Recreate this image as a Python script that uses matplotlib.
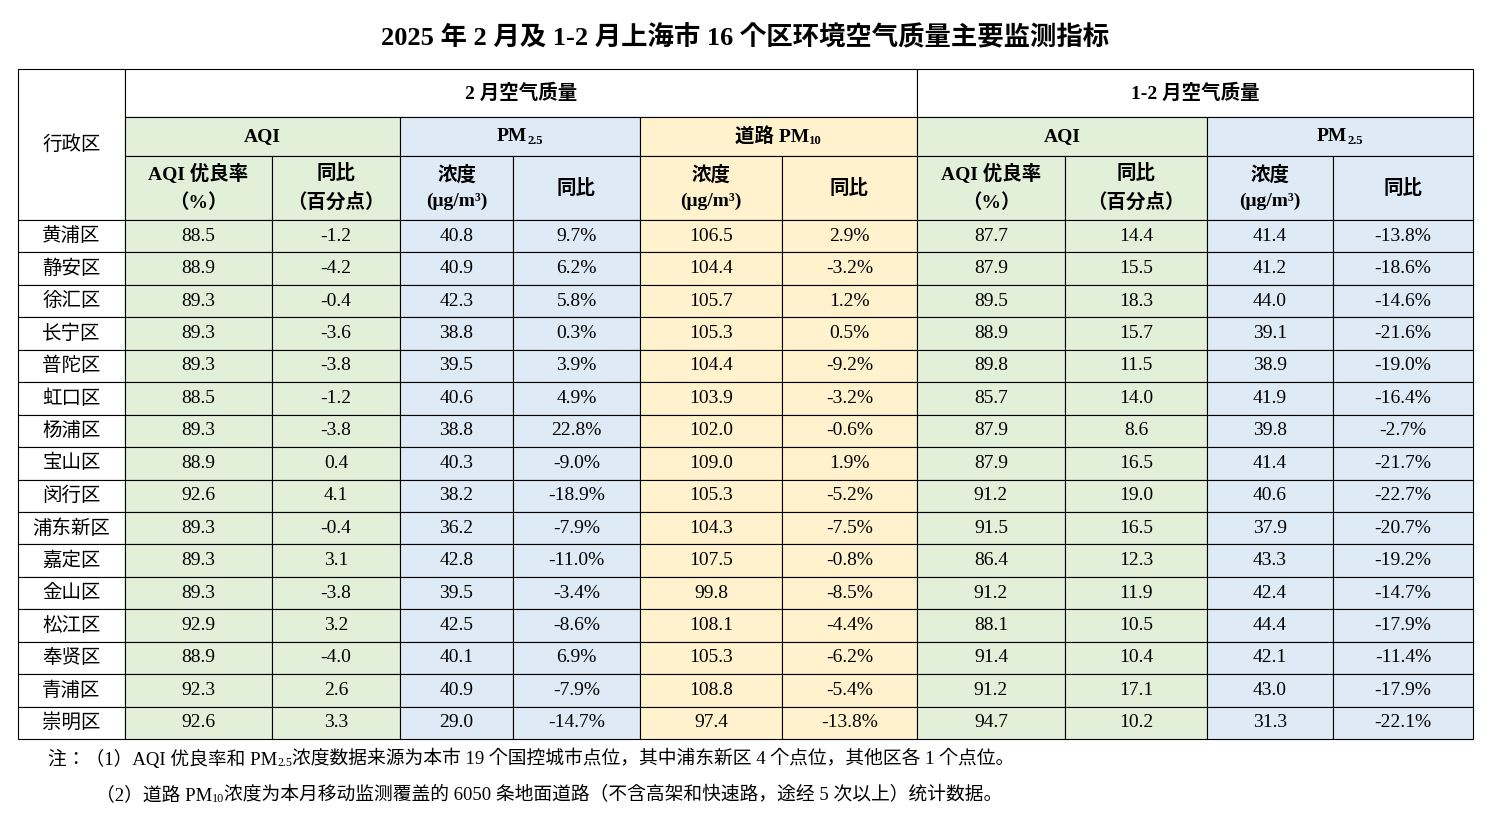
import matplotlib
matplotlib.use("Agg")
import matplotlib.pyplot as plt
from matplotlib.patches import Rectangle

plt.rcParams["font.family"] = ["Liberation Serif", "Noto Sans CJK JP", "Noto Sans CJK SC"]

title = "2025 年 2 月及 1-2 月上海市 16 个区环境空气质量主要监测指标"
districts = ["黄浦区", "静安区", "徐汇区", "长宁区", "普陀区", "虹口区", "杨浦区", "宝山区",
             "闵行区", "浦东新区", "嘉定区", "金山区", "松江区", "奉贤区", "青浦区", "崇明区"]
feb_aqi = ["88.5", "88.9", "89.3", "89.3", "89.3", "88.5", "89.3", "88.9",
           "92.6", "89.3", "89.3", "89.3", "92.9", "88.9", "92.3", "92.6"]
feb_aqi_yoy = ["-1.2", "-4.2", "-0.4", "-3.6", "-3.8", "-1.2", "-3.8", "0.4",
               "4.1", "-0.4", "3.1", "-3.8", "3.2", "-4.0", "2.6", "3.3"]
feb_pm25 = ["40.8", "40.9", "42.3", "38.8", "39.5", "40.6", "38.8", "40.3",
            "38.2", "36.2", "42.8", "39.5", "42.5", "40.1", "40.9", "29.0"]
feb_pm25_yoy = ["9.7%", "6.2%", "5.8%", "0.3%", "3.9%", "4.9%", "22.8%", "-9.0%",
                "-18.9%", "-7.9%", "-11.0%", "-3.4%", "-8.6%", "6.9%", "-7.9%", "-14.7%"]
feb_pm10 = ["106.5", "104.4", "105.7", "105.3", "104.4", "103.9", "102.0", "109.0",
            "105.3", "104.3", "107.5", "99.8", "108.1", "105.3", "108.8", "97.4"]
feb_pm10_yoy = ["2.9%", "-3.2%", "1.2%", "0.5%", "-9.2%", "-3.2%", "-0.6%", "1.9%",
                "-5.2%", "-7.5%", "-0.8%", "-8.5%", "-4.4%", "-6.2%", "-5.4%", "-13.8%"]
ytd_aqi = ["87.7", "87.9", "89.5", "88.9", "89.8", "85.7", "87.9", "87.9",
           "91.2", "91.5", "86.4", "91.2", "88.1", "91.4", "91.2", "94.7"]
ytd_aqi_yoy = ["14.4", "15.5", "18.3", "15.7", "11.5", "14.0", "8.6", "16.5",
               "19.0", "16.5", "12.3", "11.9", "10.5", "10.4", "17.1", "10.2"]
ytd_pm25 = ["41.4", "41.2", "44.0", "39.1", "38.9", "41.9", "39.8", "41.4",
            "40.6", "37.9", "43.3", "42.4", "44.4", "42.1", "43.0", "31.3"]
ytd_pm25_yoy = ["-13.8%", "-18.6%", "-14.6%", "-21.6%", "-19.0%", "-16.4%", "-2.7%", "-21.7%",
                "-22.7%", "-20.7%", "-19.2%", "-14.7%", "-17.9%", "-11.4%", "-17.9%", "-22.1%"]
columns = [feb_aqi, feb_aqi_yoy, feb_pm25, feb_pm25_yoy, feb_pm10, feb_pm10_yoy,
           ytd_aqi, ytd_aqi_yoy, ytd_pm25, ytd_pm25_yoy]

GREEN, BLUE, YELLOW = "#E2EFD9", "#DEEAF6", "#FFF2CC"
col_colors = [GREEN, GREEN, BLUE, BLUE, YELLOW, YELLOW, GREEN, GREEN, BLUE, BLUE]
xs = [18, 125, 272, 400, 513, 640, 782, 917, 1065, 1207, 1333, 1473]
y0, y1, y2, y3, yend = 69, 117, 156, 220, 739
rh = (yend - y3) / len(districts)

fig = plt.figure(figsize=(14.91, 8.15), dpi=100)
ax = fig.add_axes([0, 0, 1, 1])
ax.set_xlim(0, 1491)
ax.set_ylim(815, 0)
ax.axis("off")
renderer = fig.canvas.get_renderer()


def rich(x, y, pieces, size=14, bold=False, ha="center"):
    # pieces: list of (text, is_subscript)
    w = "bold" if bold else "normal"
    arts = []
    for t, sub in pieces:
        a = ax.text(0, y + (4 if sub else 0), t, ha="left", va="center",
                    fontsize=size * 0.65 if sub else size, fontweight=w)
        arts.append(a)
    widths = [a.get_window_extent(renderer).width for a in arts]
    cx = x - sum(widths) / 2 if ha == "center" else x
    for a, wd in zip(arts, widths):
        a.set_x(cx)
        cx += wd


def cell(xa, xb, ya, yb, text, color="white", bold=False, size=14):
    ax.add_patch(Rectangle((xa, ya), xb - xa, yb - ya, facecolor=color,
                           edgecolor="black", linewidth=0.8))
    if isinstance(text, list):
        rich((xa + xb) / 2, (ya + yb) / 2, text, size, bold)
    else:
        ax.text((xa + xb) / 2, (ya + yb) / 2, text, ha="center", va="center",
                fontsize=size, fontweight="bold" if bold else "normal", linespacing=1.6)


ax.text(745, 38, title, ha="center", va="center", fontsize=19, fontweight="bold")

cell(xs[0], xs[1], y0, y3, "行政区")
cell(xs[1], xs[7], y0, y1, "2 月空气质量", bold=True)
cell(xs[7], xs[11], y0, y1, "1-2 月空气质量", bold=True)
groups = [(1, 3, "AQI", GREEN), (3, 5, [("PM", False), ("2.5", True)], BLUE),
          (5, 7, [("道路 PM", False), ("10", True)], YELLOW), (7, 9, "AQI", GREEN),
          (9, 11, [("PM", False), ("2.5", True)], BLUE)]
for a, b, t, c in groups:
    cell(xs[a], xs[b], y1, y2, t, c, bold=True)
subs = ["AQI 优良率\n（%）", "同比\n（百分点）", "浓度\n(μg/m³)", "同比",
        "浓度\n(μg/m³)", "同比", "AQI 优良率\n（%）", "同比\n（百分点）", "浓度\n(μg/m³)", "同比"]
for i, t in enumerate(subs):
    cell(xs[i + 1], xs[i + 2], y2, y3, t, col_colors[i], bold=True)

for r, name in enumerate(districts):
    ya, yb = y3 + r * rh, y3 + (r + 1) * rh
    cell(xs[0], xs[1], ya, yb, name)
    for i, col in enumerate(columns):
        cell(xs[i + 1], xs[i + 2], ya, yb, col[r], col_colors[i])

rich(48, 759, [("注：（1）AQI 优良率和 PM", False), ("2.5", True),
               ("浓度数据来源为本市 19 个国控城市点位，其中浦东新区 4 个点位，其他区各 1 个点位。", False)],
     size=13.5, ha="left")
rich(96, 795, [("（2）道路 PM", False), ("10", True),
               ("浓度为本月移动监测覆盖的 6050 条地面道路（不含高架和快速路，途经 5 次以上）统计数据。", False)],
     size=13.5, ha="left")

fig.savefig("out.png", dpi=100)
